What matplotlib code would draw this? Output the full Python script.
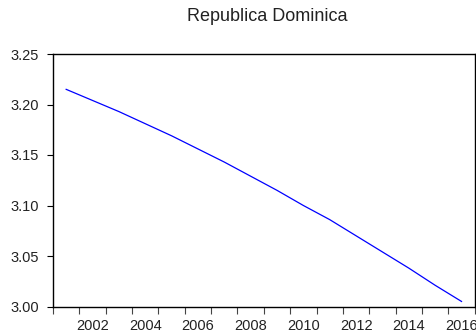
import numpy as np
import matplotlib
matplotlib.use("Agg")
import matplotlib.pyplot as plt
from matplotlib.ticker import FixedLocator, NullFormatter

plt.rcParams['font.family'] = ['Liberation Sans', 'DejaVu Sans']

# values
YEARS = [2001, 2002, 2003, 2004, 2005, 2006, 2007, 2008,
         2009, 2010, 2011, 2012, 2013, 2014, 2015, 2016]
VALUES = [3.215, 3.204, 3.193, 3.181, 3.169, 3.156, 3.143, 3.129,
          3.115, 3.100, 3.086, 3.070, 3.054, 3.038, 3.021, 3.005]
LABEL_YEARS = [2002, 2004, 2006, 2008, 2010, 2012, 2014, 2016]
Y_TICKS = [3.00, 3.05, 3.10, 3.15, 3.20, 3.25]

fig = plt.figure(figsize=(4.77, 3.35), dpi=100)
ax = fig.add_axes([53 / 477, 1 - 306.5 / 335, (474.7 - 53) / 477, (306.5 - 54) / 335])

ax.plot(YEARS, VALUES, color='#0000ff', linewidth=0.9)

ax.set_xlim(YEARS[0] - 0.5, YEARS[-1] + 0.5)
ax.set_ylim(3.00, 3.25)

# year labels sit in the middle of each year slot, ticks mark the slot borders
ax.xaxis.set_major_locator(FixedLocator(LABEL_YEARS))
ax.set_xticklabels([str(y) for y in LABEL_YEARS])
ax.xaxis.set_minor_locator(FixedLocator(np.arange(YEARS[0] - 0.5, YEARS[-1] + 1, 1.0)))
ax.xaxis.set_minor_formatter(NullFormatter())
ax.tick_params(axis='x', which='major', length=0, pad=9, labelsize=10.5, labelcolor='#222222')
ax.tick_params(axis='x', which='minor', length=5, width=0.8, direction='out', color='#444444')

ax.set_yticks(Y_TICKS)
ax.set_yticklabels([f"{v:.2f}" for v in Y_TICKS])
ax.tick_params(axis='y', length=4, width=0.8, direction='out', pad=6, labelsize=10.5,
               labelcolor='#222222')

for s in ax.spines.values():
    s.set_linewidth(1.0)
    s.set_color('black')

fig.text(267.5 / 477, 1 - 16.5 / 335, "Republica Dominica", ha='center', va='center',
         fontsize=13, color='#222222')

fig.savefig("out.png", dpi=100)
